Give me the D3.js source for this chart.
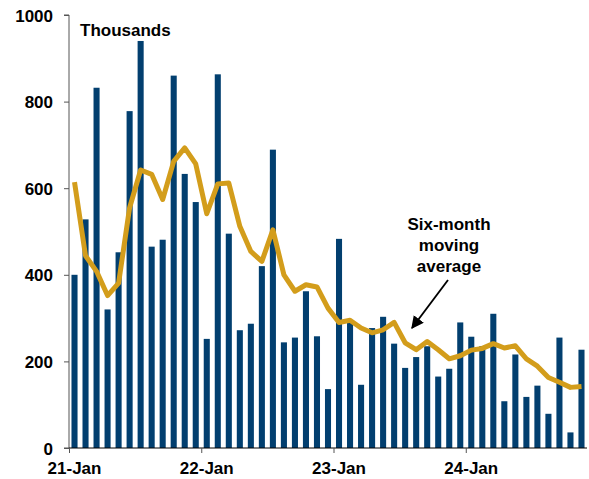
<!DOCTYPE html>
<html>
<head>
<meta charset="utf-8">
<script src="https://cdn.jsdelivr.net/npm/d3@7"></script>
<style>
  html, body { margin: 0; padding: 0; background: #fff; }
  svg { display: block; }
  text { font-family: "Liberation Sans", Arial, sans-serif; font-weight: bold; fill: #000; }
</style>
</head>
<body>
<svg id="chart" width="589" height="479"></svg>
<script>
// Monthly figures, Jan 2021 – Nov 2024 (thousands)
const months = d3.timeMonth.range(new Date(2021, 0, 1), new Date(2024, 11, 1));
const monthly = [400, 528, 832, 320, 452, 778, 940, 465, 481, 860,
                 633, 568, 252, 863, 495, 272, 287, 420, 689, 244,
                 255, 362, 258, 136, 483, 289, 146, 277, 303, 241,
                 185, 210, 235, 165, 183, 290, 257, 235, 310, 108,
                 216, 118, 144, 79, 255, 36, 227];
const movingAvg = [614, 444, 408, 352, 381, 555, 642, 632, 574, 662,
                   693, 656, 541, 610, 612, 512, 454, 431, 504, 400,
                   362, 377, 372, 323, 290, 295, 277, 266, 273, 290,
                   243, 227, 246, 227, 206, 213, 226, 230, 241, 231,
                   236, 206, 189, 163, 152, 140, 142];
const yTicks = [0, 200, 400, 600, 800, 1000];
const xTickLabels = ["21-Jan", "22-Jan", "23-Jan", "24-Jan"];

const barColor = "#023f6f";
const lineColor = "#d39d1b";

const svg = d3.select("#chart");
const plot = { left: 69, right: 587, top: 15, bottom: 448 };

const x = d3.scaleBand()
  .domain(d3.range(months.length))
  .range([plot.left, plot.right])
  .paddingInner(0.45)
  .paddingOuter(0.225);

const y = d3.scaleLinear().domain([0, 1000]).range([plot.bottom, plot.top]);

// bars
svg.append("g")
  .selectAll("rect")
  .data(monthly)
  .join("rect")
  .attr("x", (d, i) => x(i))
  .attr("y", d => y(d))
  .attr("width", x.bandwidth())
  .attr("height", d => y(0) - y(d))
  .attr("fill", barColor);

// moving average line
const line = d3.line()
  .x((d, i) => x(i) + x.bandwidth() / 2)
  .y(d => y(d));

svg.append("path")
  .datum(movingAvg)
  .attr("d", line)
  .attr("fill", "none")
  .attr("stroke", lineColor)
  .attr("stroke-width", 5)
  .attr("stroke-linejoin", "round")
  .attr("stroke-linecap", "butt");

// y axis
const yAxis = svg.append("g")
  .attr("transform", `translate(${plot.left},0)`)
  .call(d3.axisLeft(y).tickValues(yTicks).tickSize(5).tickPadding(11).tickFormat(d3.format("d")));
yAxis.select(".domain").attr("stroke", "#555").attr("d", `M-5,${plot.top}H0V${plot.bottom}H-5`);
yAxis.selectAll(".tick line").attr("stroke", "#555");
yAxis.selectAll(".tick text").style("font-size", "17px").attr("dy", "0.36em");

// x axis: ticks at the start of each January, labels under the January bar
const janIdx = months.map((m, i) => m.getMonth() === 0 ? i : -1).filter(i => i >= 0);
const xAxis = svg.append("g")
  .attr("transform", `translate(0,${plot.bottom})`)
  .call(d3.axisBottom(x).tickValues(janIdx).tickSize(5).tickPadding(9)
    .tickFormat((d, i) => xTickLabels[i]));
xAxis.select(".domain").attr("stroke", "#000").attr("d", `M${plot.left},0H${plot.right}`);
xAxis.selectAll(".tick line")
  .attr("stroke", "#555")
  .attr("transform", `translate(${-x.step() / 2 + 0.5},0)`);
xAxis.selectAll(".tick text").style("font-size", "17px").attr("dy", "0.71em");

// unit label
svg.append("text")
  .attr("x", 80).attr("y", 36)
  .style("font-size", "17px")
  .text("Thousands");

// annotation
const note = svg.append("text")
  .attr("text-anchor", "middle")
  .style("font-size", "17px");
["Six-month", "moving", "average"].forEach((t, i) => {
  note.append("tspan").attr("x", 449).attr("y", 230 + i * 21).text(t);
});

svg.append("defs").append("marker")
  .attr("id", "arrowhead")
  .attr("viewBox", "0 0 10 10")
  .attr("refX", 9).attr("refY", 5)
  .attr("markerWidth", 7).attr("markerHeight", 7)
  .attr("markerUnits", "strokeWidth")
  .attr("orient", "auto")
  .append("path").attr("d", "M0,0L10,5L0,10z").attr("fill", "#000");

svg.append("line")
  .attr("x1", 448).attr("y1", 280)
  .attr("x2", 412).attr("y2", 328)
  .attr("stroke", "#000")
  .attr("stroke-width", 1.8)
  .attr("marker-end", "url(#arrowhead)");
</script>
</body>
</html>
